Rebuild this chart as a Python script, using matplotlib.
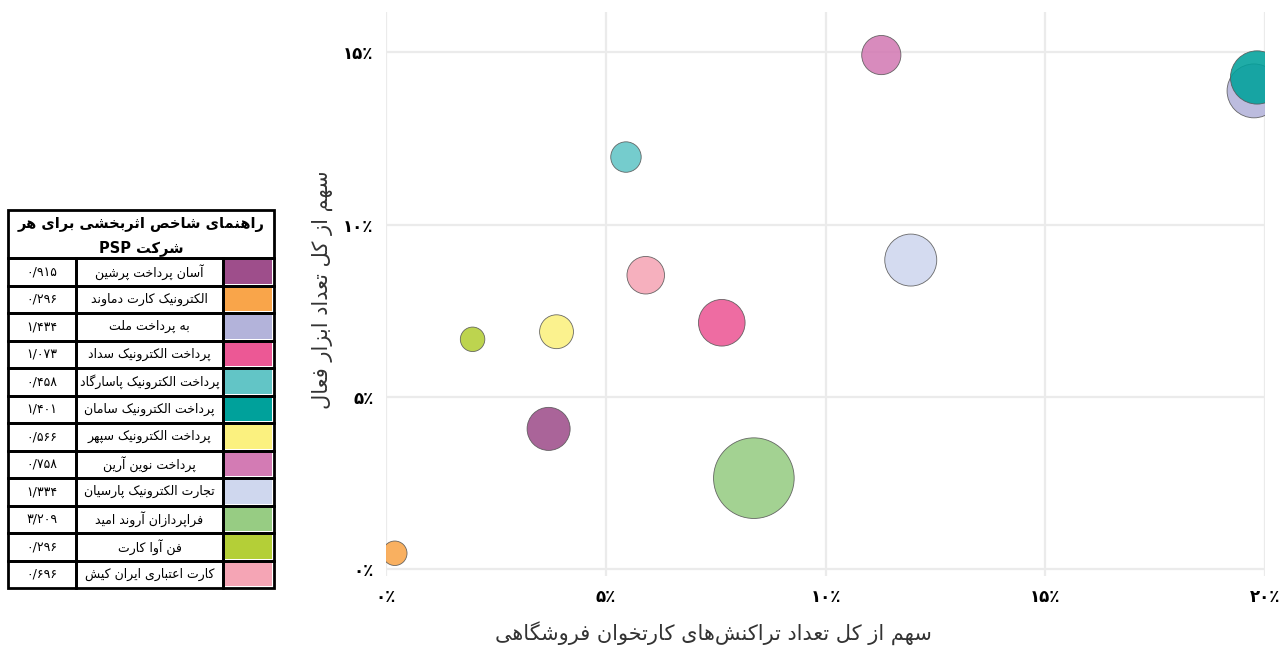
import matplotlib
matplotlib.use('Agg')
import matplotlib.pyplot as plt
from matplotlib.patches import Rectangle

# ---------------- data ----------------
companies = ['آسان پرداخت پرشین', 'الکترونیک کارت دماوند', 'به پرداخت ملت',
             'پرداخت الکترونیک سداد', 'پرداخت الکترونیک پاسارگاد',
             'پرداخت الکترونیک سامان', 'پرداخت الکترونیک سپهر',
             'پرداخت نوین آرین', 'تجارت الکترونیک پارسیان',
             'فراپردازان آروند امید', 'فن آوا کارت', 'کارت اعتباری ایران کیش']
effect_index = [0.915, 0.296, 1.434, 1.073, 0.458, 1.401, 0.566, 0.758,
                1.334, 3.209, 0.296, 0.696]
index_labels = ['۰/۹۱۵', '۰/۲۹۶', '۱/۴۳۴', '۱/۰۷۳', '۰/۴۵۸', '۱/۴۰۱',
                '۰/۵۶۶', '۰/۷۵۸', '۱/۳۳۴', '۳/۲۰۹', '۰/۲۹۶', '۰/۶۹۶']
pos_share = [3.70, 0.20, 19.75, 7.64, 5.46, 19.82, 3.88, 11.27, 11.94, 8.37, 1.97, 5.91]
device_share = [4.07, 0.46, 13.88, 7.15, 11.96, 14.27, 6.89, 14.92, 8.97, 2.64, 6.67, 8.53]
colors = ['#9E4E8B', '#F9A54A', '#B3B3DA', '#EC5895', '#62C5C6', '#00A19B',
          '#FBF17F', '#D37BB4', '#CFD7EE', '#97CC83', '#B4CF37', '#F5A5B5']
tick_values = [0, 5, 10, 15, 20]
tick_labels = ['۰٪', '۵٪', '۱۰٪', '۱۵٪', '۲۰٪']
x_label = 'سهم از کل تعداد تراکنش\u200cهای کارتخوان فروشگاهی'
y_label = 'سهم از کل تعداد ابزار فعال'
table_title = ['راهنمای شاخص اثربخشی برای هر', 'شرکت PSP']

# ---------------- minimal Persian shaping ----------------
FORMS = {
    '\u0627': ('\uFE8D', '\uFE8E'), '\u0622': ('\uFE81', '\uFE82'),
    '\u0623': ('\uFE83', '\uFE84'), '\u0625': ('\uFE87', '\uFE88'),
    '\u0628': ('\uFE8F', '\uFE90', '\uFE91', '\uFE92'),
    '\u067E': ('\uFB56', '\uFB57', '\uFB58', '\uFB59'),
    '\u062A': ('\uFE95', '\uFE96', '\uFE97', '\uFE98'),
    '\u062B': ('\uFE99', '\uFE9A', '\uFE9B', '\uFE9C'),
    '\u062C': ('\uFE9D', '\uFE9E', '\uFE9F', '\uFEA0'),
    '\u0686': ('\uFB7A', '\uFB7B', '\uFB7C', '\uFB7D'),
    '\u062D': ('\uFEA1', '\uFEA2', '\uFEA3', '\uFEA4'),
    '\u062E': ('\uFEA5', '\uFEA6', '\uFEA7', '\uFEA8'),
    '\u062F': ('\uFEA9', '\uFEAA'), '\u0630': ('\uFEAB', '\uFEAC'),
    '\u0631': ('\uFEAD', '\uFEAE'), '\u0632': ('\uFEAF', '\uFEB0'),
    '\u0698': ('\uFB8A', '\uFB8B'),
    '\u0633': ('\uFEB1', '\uFEB2', '\uFEB3', '\uFEB4'),
    '\u0634': ('\uFEB5', '\uFEB6', '\uFEB7', '\uFEB8'),
    '\u0635': ('\uFEB9', '\uFEBA', '\uFEBB', '\uFEBC'),
    '\u0636': ('\uFEBD', '\uFEBE', '\uFEBF', '\uFEC0'),
    '\u0637': ('\uFEC1', '\uFEC2', '\uFEC3', '\uFEC4'),
    '\u0638': ('\uFEC5', '\uFEC6', '\uFEC7', '\uFEC8'),
    '\u0639': ('\uFEC9', '\uFECA', '\uFECB', '\uFECC'),
    '\u063A': ('\uFECD', '\uFECE', '\uFECF', '\uFED0'),
    '\u0641': ('\uFED1', '\uFED2', '\uFED3', '\uFED4'),
    '\u0642': ('\uFED5', '\uFED6', '\uFED7', '\uFED8'),
    '\u06A9': ('\uFB8E', '\uFB8F', '\uFB90', '\uFB91'),
    '\u06AF': ('\uFB92', '\uFB93', '\uFB94', '\uFB95'),
    '\u0644': ('\uFEDD', '\uFEDE', '\uFEDF', '\uFEE0'),
    '\u0645': ('\uFEE1', '\uFEE2', '\uFEE3', '\uFEE4'),
    '\u0646': ('\uFEE5', '\uFEE6', '\uFEE7', '\uFEE8'),
    '\u0648': ('\uFEED', '\uFEEE'),
    '\u0647': ('\uFEE9', '\uFEEA', '\uFEEB', '\uFEEC'),
    '\u06CC': ('\uFBFC', '\uFBFD', '\uFBFE', '\uFBFF'),
}


def shape(s):
    s = s.replace('\u064A', '\u06CC').replace('\u0643', '\u06A9')
    ch = list(s)
    out = []
    for i, c in enumerate(ch):
        if c == '\u200c':
            continue
        if c not in FORMS:
            out.append(c)
            continue
        f = FORMS[c]
        prev = ch[i - 1] if i > 0 else None
        nxt = ch[i + 1] if i + 1 < len(ch) else None
        pj = prev in FORMS and len(FORMS[prev]) == 4
        nj = len(f) == 4 and nxt in FORMS
        if pj and nj:
            out.append(f[3])
        elif pj:
            out.append(f[1])
        elif nj:
            out.append(f[2])
        else:
            out.append(f[0])
    return out


def is_ltr(c):
    return (c.isascii() and c.isalnum()) or ('\u06F0' <= c <= '\u06F9') or c in '/.'


def fa(s):
    tokens, buf = [], ''
    for c in shape(s):
        if is_ltr(c):
            buf += c
        else:
            if buf:
                tokens.append(buf)
                buf = ''
            tokens.append(c)
    if buf:
        tokens.append(buf)
    return ''.join(reversed(tokens))


plt.rcParams['font.family'] = ['DejaVu Sans']

W, H = 1287, 648
fig = plt.figure(figsize=(W / 100, H / 100), dpi=100)

# ---------------- bubble chart ----------------
ax = fig.add_axes([386 / W, 1 - 576 / H, (1265 - 386) / W, (576 - 12) / H])
sizes = [1050 * v for v in effect_index]
sc = ax.scatter(pos_share, device_share, s=sizes, c=colors, alpha=0.88,
                edgecolors='#555555', linewidths=0.6, zorder=3)
sc.set_clip_on(True)
sc.set_clip_path(ax.patch)
ax.set_xlim(0, 20)
ax.set_ylim(-0.2, 16.17)
ax.set_xticks(tick_values)
ax.set_yticks(tick_values[:4])
ax.set_xticklabels(tick_labels, fontsize=12, fontweight='bold')
ax.set_yticklabels(tick_labels[:4], fontsize=12, fontweight='bold')
ax.tick_params(length=0, pad=9)
ax.grid(True, color='#EBEBEB', linewidth=1.6, zorder=0)
ax.set_axisbelow(True)
for sp in ax.spines.values():
    sp.set_visible(False)

fig.text(713 / W, 1 - 633 / H, fa(x_label), fontsize=15, ha='center', va='center', color='#333333')
fig.text(322 / W, 1 - 290 / H, fa(y_label), fontsize=15, ha='center', va='center',
         rotation=90, color='#333333')

# ---------------- legend table ----------------
tx = fig.add_axes([0, 0, 1, 1], zorder=-1)
tx.set_xlim(0, W)
tx.set_ylim(H, 0)
tx.axis('off')
x0, x1, x2, x3 = 8, 76, 223, 274
top, head_bottom, row_h = 210, 258, 27.5
tx.add_patch(Rectangle((x0, top), x3 - x0, head_bottom - top, fill=False, lw=2, ec='black'))
tx.text((x0 + x3) / 2, 224, fa(table_title[0]), fontsize=10.5, fontweight='bold',
        ha='center', va='center')
tx.text((x0 + x3) / 2, 248, fa(table_title[1]), fontsize=10.5, fontweight='bold',
        ha='center', va='center')
for i, name in enumerate(companies):
    y0 = head_bottom + i * row_h
    for a, b in [(x0, x1), (x1, x2), (x2, x3)]:
        tx.add_patch(Rectangle((a, y0), b - a, row_h, fill=False, lw=2, ec='black'))
    tx.add_patch(Rectangle((x2 + 2, y0 + 2), x3 - x2 - 4, row_h - 4, fc=colors[i], ec='none'))
    tx.text((x1 + x2) / 2, y0 + row_h / 2, fa(name), fontsize=9, ha='center', va='center')
    tx.text((x0 + x1) / 2, y0 + row_h / 2, index_labels[i], fontsize=9, ha='center', va='center')

fig.savefig('out.png', dpi=100)
